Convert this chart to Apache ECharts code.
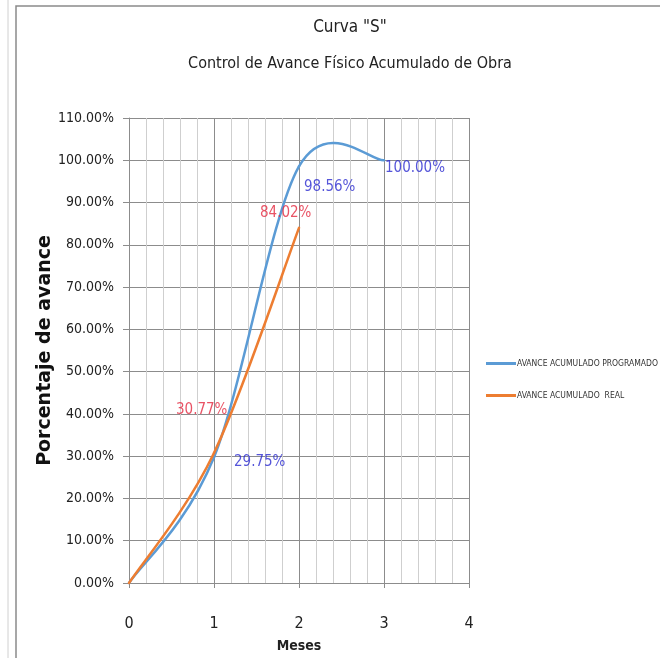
<!DOCTYPE html>
<html>
<head>
<meta charset="utf-8">
<script src="https://cdn.jsdelivr.net/npm/echarts@6/dist/echarts.min.js"></script>
<style>
html,body{margin:0;padding:0;background:#fff;}
#chart{width:660px;height:658px;}
</style>
</head>
<body>
<div id="chart"></div>
<script>
const titleLines = ['Curva "S"', 'Control de Avance Físico Acumulado de Obra'];
const months = [0, 1, 2, 3];
const programado = [0, 29.75, 98.56, 100.00];
const realMonths = [0, 1, 2];
const real = [0, 30.77, 84.02];
const seriesNames = ['AVANCE ACUMULADO PROGRAMADO', 'AVANCE ACUMULADO  REAL'];
const xAxisName = 'Meses';
const yAxisName = 'Porcentaje de avance';

const NARROW = '"Liberation Sans Narrow", "DejaVu Sans Condensed", "Roboto Condensed", sans-serif';
const BLUE = '#5b9bd5';
const ORANGE = '#ed7d31';
const BLUE_LABEL = '#2a2ad0';
const RED_LABEL = '#e3283e';

// label placement per point index (style, not data)
const progLabelPos = [null, [20, -3], [5, 13], [1, 0]];
const realLabelPos = [null, [-38, -50], [-39, -22]];

// Excel-like smoothed curve (Catmull-Rom -> Bezier) through points mapped by the axes
function smoothRenderer(xs, ys, color) {
  return function (params, api) {
    const i = params.dataIndex;
    const n = xs.length;
    if (i >= n - 1) return null;
    const P = (k) => api.coord([xs[Math.max(0, Math.min(n - 1, k))], ys[Math.max(0, Math.min(n - 1, k))]]);
    const p0 = P(i - 1), p1 = P(i), p2 = P(i + 1), p3 = P(i + 2);
    const t = 1 / 6;
    return {
      type: 'bezierCurve',
      shape: {
        x1: p1[0], y1: p1[1], x2: p2[0], y2: p2[1],
        cpx1: p1[0] + (p2[0] - p0[0]) * t, cpy1: p1[1] + (p2[1] - p0[1]) * t,
        cpx2: p2[0] - (p3[0] - p1[0]) * t, cpy2: p2[1] - (p3[1] - p1[1]) * t
      },
      style: { stroke: color, lineWidth: 2.5, fill: 'none', lineCap: 'round' }
    };
  };
}

function labelData(xs, ys, pos, color) {
  return xs.map((x, i) => {
    const item = { value: [x, ys[i]] };
    if (pos[i]) {
      item.label = {
        show: true,
        position: [pos[i][0], pos[i][1]],
        formatter: (p) => p.value[1].toFixed(2) + '%',
        color: color,
        fontFamily: NARROW,
        fontSize: 15
      };
    }
    return item;
  });
}

const chart = echarts.init(document.getElementById('chart'), null, { renderer: 'canvas' });
chart.setOption({
  backgroundColor: '#fff',
  animation: false,
  graphic: [
    { type: 'rect', shape: { x: 16, y: 6, width: 660, height: 700 }, style: { fill: 'none', stroke: '#8a8a8a', lineWidth: 1.5 }, z: -1 },
    { type: 'line', shape: { x1: 8, y1: 0, x2: 8, y2: 658 }, style: { stroke: '#d0d0d0', lineWidth: 1 } }
  ],
  title: [
    { text: titleLines[0], left: 345, top: 14, textAlign: 'center', textStyle: { fontFamily: NARROW, fontSize: 17, fontWeight: 'normal', color: '#222' } },
    { text: titleLines[1], left: 345, top: 51, textAlign: 'center', textStyle: { fontFamily: NARROW, fontSize: 16, fontWeight: 'normal', color: '#222' } }
  ],
  legend: {
    orient: 'vertical',
    left: 481,
    top: 354,
    itemWidth: 30,
    itemHeight: 3,
    itemGap: 23,
    icon: 'rect',
    textStyle: { fontFamily: NARROW, fontSize: 8.5, color: '#333', padding: [0, 0, 0, -4] },
    data: seriesNames
  },
  grid: { left: 129, right: 191, top: 118, bottom: 74, containLabel: false },
  xAxis: {
    type: 'value',
    min: 0, max: 4, interval: 1,
    name: xAxisName,
    nameLocation: 'middle',
    nameGap: 56,
    nameMoveOverlap: false,
    nameTextStyle: { fontFamily: NARROW, fontSize: 14, fontWeight: 'bold', color: '#222' },
    axisLine: { show: true, lineStyle: { color: '#8c8c8c', width: 1 } },
    axisTick: { show: true, length: 5, lineStyle: { color: '#8c8c8c' } },
    axisLabel: { fontFamily: NARROW, fontSize: 16, color: '#222', margin: 41, verticalAlign: 'middle' },
    splitLine: { show: true, lineStyle: { color: '#8c8c8c', width: 1 } },
    minorTick: { show: false, splitNumber: 5 },
    minorSplitLine: { show: true, lineStyle: { color: '#cfcfcf', width: 1 } }
  },
  yAxis: {
    type: 'value',
    min: 0, max: 110, interval: 10,
    name: yAxisName,
    nameLocation: 'middle',
    nameRotate: 90,
    nameGap: 74,
    nameMoveOverlap: false,
    nameTextStyle: { fontFamily: '"DejaVu Sans", Verdana, sans-serif', fontSize: 19, fontWeight: 'bold', color: '#111' },
    axisLine: { show: true, lineStyle: { color: '#8c8c8c', width: 1 } },
    axisTick: { show: true, length: 6, lineStyle: { color: '#8c8c8c' } },
    axisLabel: { fontFamily: NARROW, fontSize: 14, color: '#222', margin: 15, formatter: (v) => v.toFixed(2) + '%' },
    splitLine: { show: true, lineStyle: { color: '#8c8c8c', width: 1 } }
  },
  series: [
    {
      name: seriesNames[0],
      type: 'custom',
      renderItem: smoothRenderer(months, programado, BLUE),
      itemStyle: { color: BLUE },
      data: months.map((m, i) => [m, programado[i]]),
      z: 3
    },
    {
      name: seriesNames[1],
      type: 'custom',
      renderItem: smoothRenderer(realMonths, real, ORANGE),
      itemStyle: { color: ORANGE },
      data: realMonths.map((m, i) => [m, real[i]]),
      z: 4
    },
    {
      name: 'lbl-prog',
      type: 'scatter',
      symbolSize: 0,
      silent: true,
      data: labelData(months, programado, progLabelPos, BLUE_LABEL),
      z: 5
    },
    {
      name: 'lbl-real',
      type: 'scatter',
      symbolSize: 0,
      silent: true,
      data: labelData(realMonths, real, realLabelPos, RED_LABEL),
      z: 5
    }
  ]
});
</script>
</body>
</html>
